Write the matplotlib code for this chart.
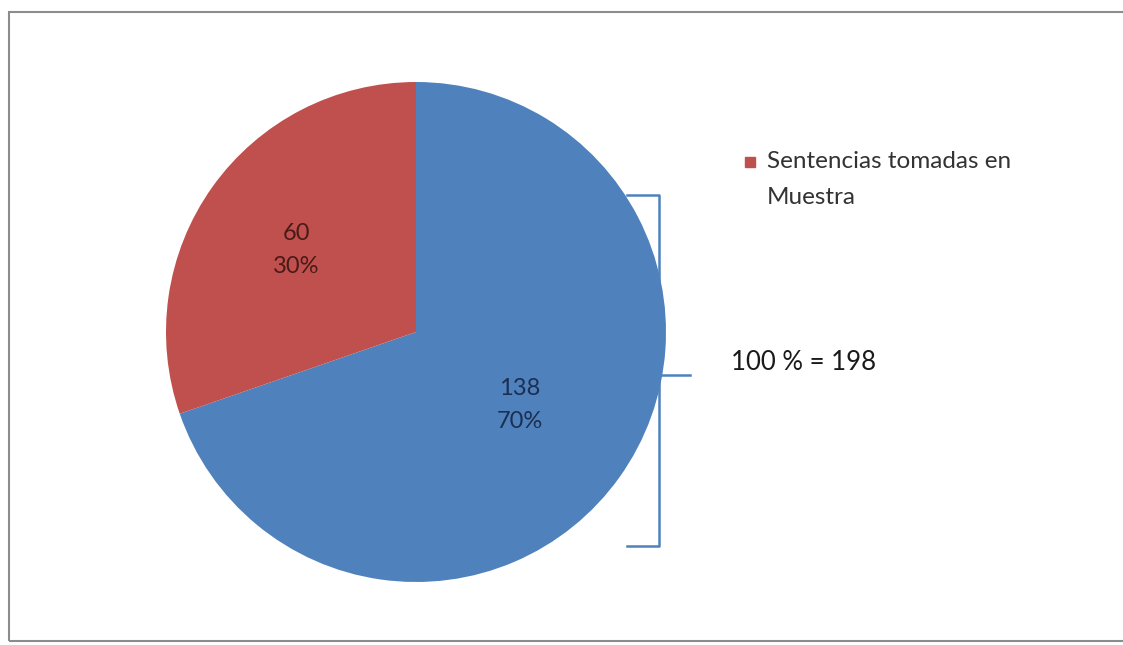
import matplotlib.pyplot as plt
from matplotlib.patches import Rectangle

plt.rcParams['font.family'] = ['Lato', 'DejaVu Sans']

# data
slices = ['Sentencias totales', 'Sentencias tomadas en Muestra']
counts = [138, 60]
percents = ['70%', '30%']
total_label = '100 % = 198'
colors = ['#4F81BD', '#C0504D']
label_colors = ['#1b2f52', '#4a1a18']

W, H = 1123, 645
fig = plt.figure(figsize=(W / 100, H / 100), dpi=100)
ax = fig.add_axes([0, 0, 1, 1])

# outer frame
ax.add_patch(Rectangle((9, 4), 1125, 629, fill=False, edgecolor='#8c8c8c', lw=1.5))

cx, cy, r = 416, H - 332, 250
wedges, texts = ax.pie(counts, colors=colors, startangle=90, counterclock=False,
                       center=(cx, cy), radius=r, frame=True)
ax.set_xlim(0, W)
ax.set_ylim(0, H)
ax.set_aspect('equal')
ax.axis('off')

# data labels
label_pos = [(520, H - 405), (296, H - 250)]
for (x, y), n, p, c in zip(label_pos, counts, percents, label_colors):
    ax.text(x, y, f'{n}\n{p}', ha='center', va='center', fontsize=17,
            color=c, linespacing=1.75)

# bracket
bc = '#4F81BD'
ax.plot([627, 659, 659, 627], [H - 195, H - 195, H - 546, H - 546], color=bc, lw=1.8,
        zorder=0.5)
ax.plot([659, 690], [H - 375, H - 375], color=bc, lw=1.8, zorder=0.5)
ax.text(731, H - 362, total_label, ha='left', va='center', fontsize=18.5, color='#1a1a1a')

# legend (only the red slice)
ax.add_patch(Rectangle((745, H - 167), 10, 10, color=colors[1]))
ax.text(767, H - 151, 'Sentencias tomadas en\nMuestra', ha='left', va='top',
        fontsize=17.5, color='#333333', linespacing=1.88)

fig.savefig('out.png', dpi=100)
